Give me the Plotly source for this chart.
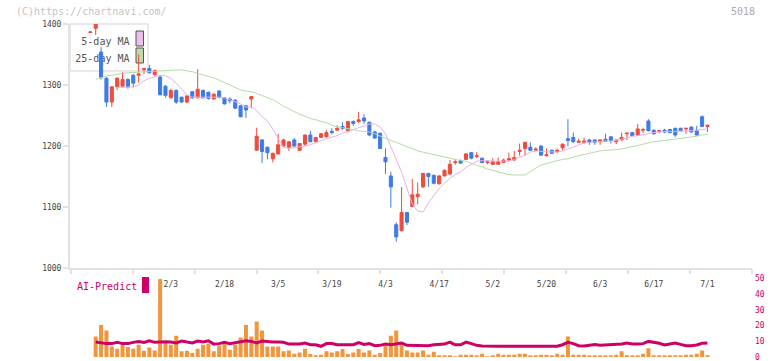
import plotly.graph_objects as go

# ---------------- data (index -1 .. 114 = trading days) ----------------
idx = list(range(-1, 115))

opens = [1386,
    1393, 1354, 1311, 1272, 1297, 1298, 1309, 1316, 1316, 1325,
    1327, 1317, 1313, 1298, 1279, 1291, 1280, 1272, 1289, 1279,
    1291, 1288, 1277, 1290, 1279, 1277, 1275, 1266, 1266, 1277,
    1193, 1210, 1198, 1179, 1187, 1200, 1198, 1210, 1193, 1203,
    1218, 1207, 1214, 1215, 1224, 1226, 1232, 1225, 1240, 1240,
    1246, 1239, 1223, 1221, 1181, 1151, 1071, 1061, 1091, 1101,
    1117, 1133, 1155, 1152, 1138, 1151, 1154, 1173, 1176, 1178,
    1189, 1183, 1180, 1173, 1170, 1170, 1173, 1177, 1177, 1191,
    1196, 1198, 1193, 1200, 1184, 1193, 1191, 1197, 1212, 1214,
    1206, 1206, 1210, 1210, 1207, 1211, 1215, 1207, 1210, 1220,
    1222, 1218, 1226, 1241, 1226, 1224, 1226, 1227, 1229, 1229,
    1228, 1231, 1225, 1248, 1232]

highs = [1388,
    1408, 1362, 1313, 1298, 1313, 1321, 1311, 1318, 1350, 1327.5,
    1333, 1325, 1316, 1300, 1294, 1293, 1281, 1283, 1290, 1326,
    1293, 1289, 1286, 1292, 1280, 1280, 1277, 1267, 1267, 1282,
    1230, 1211, 1199, 1189, 1220, 1212, 1208, 1213, 1205, 1219,
    1225, 1215, 1221, 1226, 1229, 1234, 1239, 1241, 1242, 1256,
    1252, 1240, 1225, 1222, 1196, 1158, 1075, 1133, 1092, 1146,
    1140, 1156, 1156, 1153, 1152, 1162, 1177, 1179, 1178, 1188,
    1190, 1190, 1181, 1177, 1180, 1181, 1179, 1189, 1192, 1204,
    1207, 1206, 1198, 1201, 1196, 1194, 1196, 1204, 1244, 1222,
    1212, 1214, 1211, 1210.5, 1211, 1220, 1216, 1210.5, 1222, 1221.5,
    1223, 1236, 1230, 1244, 1227, 1225.5, 1228, 1228, 1230, 1230,
    1229.5, 1232, 1233, 1250, 1235]

lows = [1385,
    1382, 1309, 1264, 1264, 1292, 1296, 1294, 1296, 1304, 1318,
    1319, 1315, 1283, 1279, 1278, 1269, 1271, 1270, 1277, 1278,
    1278, 1276, 1276, 1278, 1268, 1270, 1261, 1247, 1246, 1262,
    1192, 1172, 1178, 1173, 1186, 1199, 1192, 1199, 1192, 1200,
    1206, 1206, 1213, 1214, 1219, 1225, 1226, 1222, 1233, 1238,
    1236, 1216, 1212, 1195, 1154, 1099, 1043, 1060, 1070, 1100,
    1105, 1131, 1133, 1137, 1137, 1150, 1153, 1169, 1171, 1177,
    1178, 1180, 1172, 1170, 1169, 1169, 1172, 1176, 1176, 1184,
    1184, 1192, 1191, 1184, 1183, 1187, 1188, 1193, 1199, 1205,
    1205, 1204, 1202, 1202, 1202, 1207, 1204, 1203, 1209, 1210,
    1216, 1217, 1221, 1224, 1219, 1221, 1221, 1221, 1215, 1224,
    1220, 1222, 1217, 1231, 1223]

closes = [1387,
    1404, 1312, 1272, 1297, 1311, 1309, 1297, 1303, 1318, 1327,
    1320, 1324, 1284, 1283, 1291, 1272, 1272, 1282, 1279, 1293,
    1279, 1278, 1285, 1280, 1269, 1274, 1262, 1248, 1259, 1281,
    1216, 1191, 1189, 1188, 1202, 1210, 1207, 1200, 1204, 1218,
    1207, 1214, 1220, 1222, 1222, 1229, 1229, 1240, 1237, 1243,
    1241, 1218, 1213, 1196, 1174, 1133, 1051, 1091, 1075, 1120,
    1121, 1155, 1150, 1139, 1151, 1160, 1170, 1174, 1172, 1187,
    1180, 1184, 1173, 1174, 1174, 1174, 1177, 1179, 1181, 1193,
    1206, 1193, 1195, 1185, 1185.5, 1188, 1193, 1203, 1209, 1207,
    1208, 1208, 1206, 1206, 1210, 1208, 1209, 1210, 1214, 1221,
    1217, 1228, 1227, 1225, 1220, 1225, 1223, 1222, 1218, 1225,
    1229, 1223, 1218, 1232, 1234]

ma5 = [None, None, None, None, None,
    1296, 1296, 1297, 1297, 1300, 1307,
    1311, 1314, 1316, 1315, 1311, 1303, 1293, 1284, 1280, 1280,
    1280, 1280, 1281, 1280, 1279, 1276, 1273, 1269, 1264, 1264,
    1258, 1248, 1241, 1228, 1212, 1198, 1196, 1197, 1198, 1200,
    1202, 1206, 1209, 1212, 1214, 1217, 1221, 1224, 1226, 1230,
    1233, 1236, 1236, 1231, 1220, 1200, 1179, 1157, 1131, 1105,
    1093, 1092, 1107, 1118, 1130, 1139, 1147, 1153, 1158, 1165,
    1170, 1175, 1176, 1176, 1175, 1175, 1175, 1175, 1178, 1181,
    1185, 1190, 1192, 1191, 1191, 1190, 1190, 1192, 1195, 1199,
    1202, 1205, 1206, 1207, 1207, 1208, 1208, 1209, 1211, 1213,
    1216, 1217, 1219, 1221, 1222, 1223, 1224, 1224, 1224, 1224,
    1224, 1225, 1226, 1227, 1228]

ma25 = [None,
    1309, 1312, 1315, 1316, 1318, 1319, 1320, 1320.5, 1321, 1322,
    1322, 1322.5, 1323, 1324, 1324, 1325, 1325, 1323, 1322, 1319,
    1316, 1314, 1312, 1308, 1304, 1300, 1296, 1292, 1290, 1289,
    1286, 1283, 1280, 1276, 1271, 1265, 1261, 1256, 1252, 1249,
    1245, 1243, 1241, 1238, 1234, 1231, 1230, 1228, 1226, 1225,
    1224, 1223, 1220, 1216, 1213, 1209, 1206, 1202, 1199, 1196,
    1192, 1190, 1188, 1186, 1184, 1182, 1179, 1178, 1176, 1175,
    1171, 1168, 1166, 1162, 1160, 1158, 1155, 1153, 1152.5, 1152.5,
    1152.5, 1158, 1164, 1169, 1171, 1174, 1176, 1178, 1179, 1182,
    1184, 1186, 1189, 1191, 1192, 1193, 1193, 1194, 1195, 1197,
    1199, 1202, 1204, 1206, 1207, 1208, 1209, 1210, 1212, 1213,
    1214, 1215, 1216, 1218, 1219]

volume = [None,
    13.0, 20.4, 16.8, 6.7, 5.3, 7.8, 6.3, 5.3, 7.8, 4.0,
    6.1, 4.2, 49.6, 9.9, 7.8, 13.5, 3.6, 4.0, 2.5, 5.3,
    7.8, 8.4, 3.6, 7.1, 8.2, 4.6, 7.8, 12.4, 20.4, 13.0,
    22.5, 16.8, 6.7, 6.7, 6.7, 3.6, 4.2, 2.1, 2.9, 5.3,
    1.9, 0.8, 1.5, 3.6, 2.9, 3.6, 5.1, 1.9, 2.9, 5.1,
    2.9, 4.2, 1.5, 2.5, 7.1, 13.5, 16.8, 9.3, 4.2, 2.9,
    2.9, 4.2, 1.5, 3.4, 1.1, 1.1, 1.1, 0.3, 1.5, 1.5,
    1.5, 1.1, 2.1, 0.3, 1.1, 2.1, 1.5, 1.5, 1.5, 2.1,
    2.1, 1.1, 1.1, 1.5, 1.5, 0.5, 2.1, 1.5, 13.0, 1.5,
    1.5, 1.5, 0.5, 0.5, 1.1, 1.1, 1.1, 1.5, 3.6, 1.1,
    1.1, 1.1, 2.1, 5.5, 0.5, 0.5, 1.1, 0.5, 1.1, 0.5,
    1.5, 1.5, 2.1, 4.2, 1.1]

ai_predict = [None,
    9.5, 8.9, 8.5, 8.5, 9.3, 8.5, 8.5, 9.3, 9.9, 9.3,
    10.3, 9.3, 9.7, 9.7, 9.5, 8.9, 10.1, 9.3, 8.9, 10.1,
    9.5, 10.3, 8.2, 8.5, 9.3, 8.5, 9.1, 9.7, 10.3, 9.9,
    8.9, 10.1, 9.7, 9.5, 9.5, 9.3, 8.2, 8.2, 8.2, 8.9,
    7.8, 7.8, 6.8, 8.5, 8.5, 7.8, 7.8, 7.8, 7.8, 9.1,
    8.0, 8.5, 7.2, 7.4, 8.2, 7.8, 8.5, 8.9, 7.4, 7.4,
    7.4, 7.4, 7.2, 7.8, 7.8, 8.2, 9.5, 7.8, 7.8, 9.5,
    8.5, 7.4, 7.0, 6.8, 6.8, 6.8, 6.8, 6.8, 6.8, 6.8,
    6.8, 6.8, 6.8, 6.8, 6.8, 6.8, 6.8, 7.8, 9.3, 8.5,
    7.2, 7.0, 7.6, 8.0, 7.4, 7.6, 8.2, 8.2, 8.2, 8.9,
    8.2, 8.2, 8.5, 9.9, 9.3, 8.7, 7.6, 8.2, 8.9, 8.0,
    7.2, 7.2, 7.6, 8.7, 8.9]

date_labels = ["2/3", "2/18", "3/5", "3/19", "4/3", "4/17",
               "5/2", "5/20", "6/3", "6/17", "7/1"]
date_idx = [14, 24, 34, 44, 54, 64, 74, 84, 94, 104, 114]
price_ticks = [1000, 1100, 1200, 1300, 1400]
ai_ticks = [0, 10, 20, 30, 40, 50]

for arr in (opens, highs, lows, closes, ma5, ma25, volume, ai_predict):
    assert len(arr) == len(idx), len(arr)

# ---------------- styling ----------------
RED = "#EF4C3C"
BLUE = "#3F7BE6"
ORANGE = "#F2963E"
MAGENTA = "#CC0066"
PINK = "#E6B2E6"
GREEN = "#B5DCA5"
AXIS = "#E2E2E2"
MONO = "DejaVu Sans Mono"
XR = [-4.79, 122.3]

fig = go.Figure()

fig.add_trace(go.Scatter(x=idx, y=ma25, mode="lines", line=dict(color=GREEN, width=1),
                         hoverinfo="skip", showlegend=False))
fig.add_trace(go.Scatter(x=idx, y=ma5, mode="lines", line=dict(color=PINK, width=1),
                         hoverinfo="skip", showlegend=False))
fig.add_trace(go.Candlestick(
    x=idx, open=opens, high=highs, low=lows, close=closes,
    increasing=dict(line=dict(color=RED, width=1), fillcolor=RED),
    decreasing=dict(line=dict(color=BLUE, width=1), fillcolor=BLUE),
    whiskerwidth=0, showlegend=False, hoverinfo="skip"))

fig.add_trace(go.Bar(x=idx, y=volume, marker=dict(color=ORANGE, line=dict(width=0)),
                     xaxis="x2", yaxis="y2", showlegend=False, hoverinfo="skip"))
fig.add_trace(go.Scatter(x=idx, y=ai_predict, mode="lines", line=dict(color=MAGENTA, width=3),
                         xaxis="x2", yaxis="y2", showlegend=False, hoverinfo="skip"))
# carrier for the decorative tick-mark axis
fig.add_trace(go.Scatter(x=[0], y=[None], xaxis="x3", yaxis="y", mode="lines",
                         showlegend=False, hoverinfo="skip"))

PT, PB = 24, 357  # plot top / bottom (px)
H = PB - PT


def py(p):
    return (PB - p) / H


def px(p):
    return (p - 70) / 682


fig.update_layout(
    width=772, height=361,
    margin=dict(l=70, r=20, t=24, b=4, autoexpand=False),
    showlegend=False,
    paper_bgcolor="white", plot_bgcolor="white",
    bargap=0.25, boxgap=0.18,
    font=dict(family=MONO, size=8, color="#444"),
    xaxis=dict(domain=[0, 1], range=XR, anchor="y", automargin=False,
               tickvals=date_idx, ticktext=date_labels, ticks="",
               ticklabelstandoff=7,
               showline=True, linecolor=AXIS, linewidth=2,
               showgrid=False, zeroline=False,
               tickfont=dict(family=MONO, size=8, color="#444"),
               rangeslider=dict(visible=False)),
    xaxis3=dict(overlaying="x", anchor="y", range=XR, side="bottom", automargin=False,
                tick0=-4.655, dtick=11.54, ticks="outside", ticklen=5,
                tickcolor=AXIS, tickwidth=2, showticklabels=False,
                showline=False, showgrid=False, zeroline=False),
    yaxis=dict(domain=[py(268), 1], range=[1000, 1400], anchor="x", automargin=False,
               tickvals=price_ticks, ticks="outside", ticklen=5,
               tickcolor=AXIS, tickwidth=2,
               showline=True, linecolor=AXIS, linewidth=2,
               showgrid=False, zeroline=False,
               tickfont=dict(family=MONO, size=8, color="#444")),
    xaxis2=dict(domain=[0, 1], range=XR, anchor="y2", visible=False, automargin=False),
    yaxis2=dict(domain=[0, py(278.3)], range=[0, 50], anchor="x2", side="right",
                automargin=False, ticklabeloverflow="allow",
                tickvals=ai_ticks, ticks="", showline=False, showgrid=False,
                zeroline=False, ticklabelstandoff=2,
                tickfont=dict(family=MONO, size=8, color=MAGENTA)),
)

shapes = [
    # legend frame
    dict(type="rect", xref="paper", yref="paper", x0=px(70), x1=px(148),
         y0=py(71), y1=py(24), line=dict(color=AXIS, width=1.5),
         fillcolor="rgba(0,0,0,0)", layer="below"),
    # legend labels (drawn beneath the candles)
    dict(type="rect", xref="paper", yref="paper", x0=px(72), x1=px(135.5),
         y0=py(47), y1=py(33), line=dict(width=0), fillcolor="rgba(0,0,0,0)",
         layer="below",
         label=dict(text="5-day MA", textposition="middle right", padding=3,
                    font=dict(family=MONO, size=10, color="#555"))),
    dict(type="rect", xref="paper", yref="paper", x0=px(72), x1=px(135.5),
         y0=py(64), y1=py(50), line=dict(width=0), fillcolor="rgba(0,0,0,0)",
         layer="below",
         label=dict(text="25-day MA", textposition="middle right", padding=3,
                    font=dict(family=MONO, size=10, color="#555"))),
    # swatches
    dict(type="rect", xref="paper", yref="paper", x0=px(136), x1=px(143.5),
         y0=py(46), y1=py(31), line=dict(color="#555", width=1), fillcolor="#EBBEEB",
         layer="below"),
    dict(type="rect", xref="paper", yref="paper", x0=px(136), x1=px(143.5),
         y0=py(63), y1=py(48), line=dict(color="#555", width=1), fillcolor="#BCDCAE",
         layer="below"),
    # AI-Predict marker
    dict(type="rect", xref="paper", yref="paper", x0=px(142), x1=px(149),
         y0=py(293), y1=py(277), line=dict(width=0), fillcolor=MAGENTA),
]
fig.update_layout(shapes=shapes)

fig.update_layout(annotations=[
    dict(text="(C)https://chartnavi.com/", xref="paper", yref="paper",
         x=px(14), y=py(12), xanchor="left", yanchor="middle", showarrow=False,
         font=dict(family=MONO, size=10, color="#C4C4C4")),
    dict(text="5018", xref="paper", yref="paper",
         x=px(757), y=py(12), xanchor="right", yanchor="middle", showarrow=False,
         font=dict(family=MONO, size=10, color="#AAAAAA")),
    dict(text="AI-Predict", xref="paper", yref="paper",
         x=px(75), y=py(286), xanchor="left", yanchor="middle", showarrow=False,
         font=dict(family=MONO, size=10, color=MAGENTA)),
])

fig.write_html(
    "out.html",
    config={"displayModeBar": False},
    post_script="document.body.style.margin='0';document.body.style.overflow='hidden';",
)
